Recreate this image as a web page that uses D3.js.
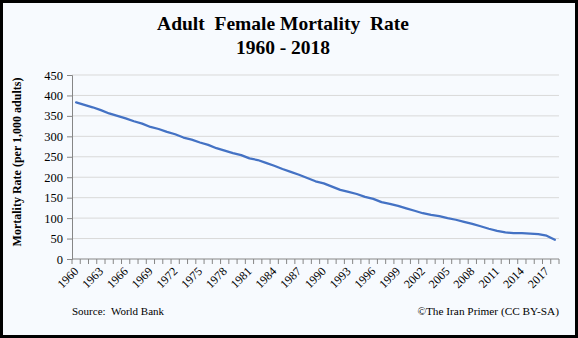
<!DOCTYPE html>
<html><head><meta charset="utf-8">
<script src="https://cdn.jsdelivr.net/npm/d3@7"></script>
<style>html,body{margin:0;padding:0;background:#fff;}svg{display:block;}</style>
</head><body>
<script>
const years = d3.range(1960, 2019);
const values = [383,377,371,364,356,350,344,337,331,323,318,311,305,297,292,285,279,271,265,259,254,246,242,235,228,220,213,206,198,190,185,177,169,164,159,152,147,139,135,130,124,118,112,108,105,100,96,91,86,80,74,69,65,63,63,62,61,57,47];
const yTicks = [0,50,100,150,200,250,300,350,400,450];
const titleLines = ["Adult  Female Mortality  Rate", "1960 - 2018"];
const yTitle = "Mortality Rate (per 1,000 adults)";
const sourceText = "Source:  World Bank";
const creditText = "\u00A9The Iran Primer (CC BY-SA)";

const W = 578, H = 338;
const m = {left: 72, right: 19, top: 75, bottom: 79};
const svg = d3.select("body").append("svg").attr("width", W).attr("height", H);
svg.append("rect").attr("x",1.5).attr("y",1.5).attr("width",W-3).attr("height",H-3)
  .attr("fill","#f7fafe").attr("stroke","#000").attr("stroke-width",3);

const font = "'Liberation Serif','Times New Roman',serif";
svg.append("text").attr("x",283).attr("y",30).attr("text-anchor","middle")
  .attr("font-family",font).attr("font-weight","bold").attr("font-size",19.5)
  .style("white-space","pre").text(titleLines[0]);
svg.append("text").attr("x",283).attr("y",54).attr("text-anchor","middle")
  .attr("font-family",font).attr("font-weight","bold").attr("font-size",19.5)
  .text(titleLines[1]);

const x = d3.scaleBand().domain(years).range([m.left, W-m.right]);
const y = d3.scaleLinear().domain([0,450]).range([H-m.bottom, m.top]);

// gridlines
svg.append("g").selectAll("line").data(yTicks.filter(d=>d>0)).join("line")
  .attr("x1",m.left).attr("x2",W-m.right).attr("y1",d=>y(d)).attr("y2",d=>y(d))
  .attr("stroke","#d9d9d9").attr("stroke-width",1);

// y axis
const ya = svg.append("g").attr("transform",`translate(${m.left},0)`)
  .call(d3.axisLeft(y).tickValues(yTicks).tickSize(5).tickPadding(4));
ya.select(".domain").attr("stroke","#868686");
ya.selectAll(".tick line").attr("stroke","#868686");
ya.selectAll("text").attr("font-family",font).attr("font-size",12.5).attr("fill","#000");

// x axis
const xa = svg.append("g").attr("transform",`translate(0,${H-m.bottom})`);
xa.append("line").attr("x1",m.left).attr("x2",W-m.right).attr("stroke","#868686");
const bounds = years.map(yr=>x(yr)).concat([x(years[years.length-1])+x.bandwidth()]);
xa.selectAll("line.tk").data(bounds).join("line").attr("class","tk")
  .attr("x1",d=>d).attr("x2",d=>d).attr("y1",0).attr("y2",5).attr("stroke","#868686");
xa.selectAll("text").data(years.filter((d,i)=>i%3===0)).join("text")
  .attr("transform",d=>`translate(${x(d)+x.bandwidth()/2+3},${13}) rotate(-45)`)
  .attr("text-anchor","end").attr("font-family",font).attr("font-size",12)
  .text(d=>d);

// line
svg.append("path").datum(values)
  .attr("d", d3.line().x((d,i)=>x(years[i])+x.bandwidth()/2).y(d=>y(d)))
  .attr("fill","none").attr("stroke","#4472c4").attr("stroke-width",2.25)
  .attr("stroke-linejoin","round").attr("stroke-linecap","round");

// y title
svg.append("text").attr("transform","translate(21,162) rotate(-90)")
  .attr("text-anchor","middle").attr("font-family",font).attr("font-weight","bold")
  .attr("font-size",12).text(yTitle);

svg.append("text").attr("x",72).attr("y",315).attr("font-family",font)
  .attr("font-size",11).style("white-space","pre").text(sourceText);
svg.append("text").attr("x",559).attr("y",315).attr("text-anchor","end")
  .attr("font-family",font).attr("font-size",11.3).text(creditText);
</script>
</body></html>
